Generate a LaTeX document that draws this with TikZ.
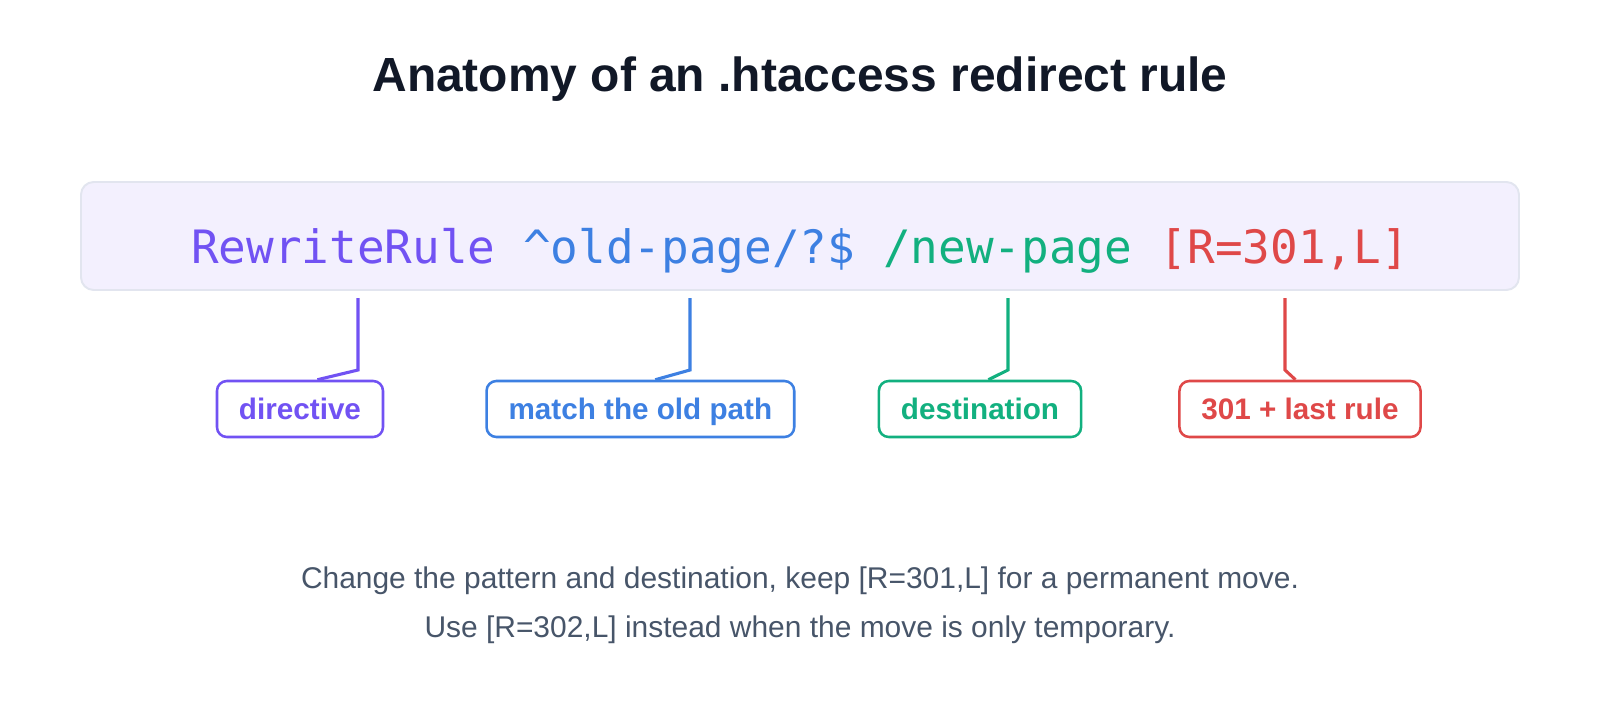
\documentclass[tikz,border=0pt]{standalone}
\usepackage{fontspec}
\setmainfont{Liberation Sans}
\setmonofont{DejaVu Sans Mono}
\usetikzlibrary{positioning, calc}
\definecolor{cink}{HTML}{111827}
\definecolor{cpurple}{HTML}{7152F3}
\definecolor{cblue}{HTML}{3D80E2}
\definecolor{cgreen}{HTML}{12B07F}
\definecolor{cred}{HTML}{DF4848}
\definecolor{cslate}{HTML}{475569}
\definecolor{cpanel}{HTML}{F3F0FE}
\definecolor{cedge}{HTML}{E2E5EF}
\tikzset{
  tag/.style={draw=#1, text=#1, fill=white, line width=1.8pt, rounded corners=7pt, inner xsep=0.55cm, inner ysep=0pt, text height=0.6cm, text depth=0.1cm, minimum height=1.4cm, font=\fontsize{21.1}{25}\selectfont\bfseries},
  lead/.style={draw=#1, line width=2.2pt},
  caption/.style={font=\fontsize{21.3}{26}\selectfont, text=cslate, anchor=base},
}

\begin{document}
\begin{tikzpicture}
  \useasboundingbox (-20,-9) rectangle (20,9);
  \node[font=\fontsize{34.1}{40}\selectfont\bfseries, text=cink, anchor=base] (title) at (0,6.725) {Anatomy of an .htaccess redirect rule};
  % the rule itself
  \node[draw=cedge, fill=cpanel, line width=1.4pt, rounded corners=9pt, minimum width=35.95cm, minimum height=2.7cm] (panel) at (0,3.1) {};
  \node[font=\fontsize{32.7}{38}\ttfamily, anchor=base] (rule) at (0,2.425)
    {\textcolor{cpurple}{RewriteRule} \textcolor{cblue}{\textasciicircum old-page/?\$} \textcolor{cgreen}{/new-page} \textcolor{cred}{[R=301,L]}};
  % what each part does
  \node[tag=cpurple] (directive) at (-12.5,-1.225) {directive};
  \node[tag=cblue] (pattern) at (-3.99,-1.225) {match the old path};
  \node[tag=cgreen] (target) at (4.5,-1.225) {destination};
  \node[tag=cred] (flags) at (12.5,-1.225) {301 + last rule};
  \coordinate (p1) at (-11.05,1.55);
  \coordinate (p2) at (-2.75,1.55);
  \coordinate (p3) at (5.2,1.55);
  \coordinate (p4) at (12.125,1.55);
  \draw[lead=cpurple] (p1) -- ++(0,-1.8) -- ($(directive.north)!0.3!(directive.north -| p1)$);
  \draw[lead=cblue] (p2) -- ++(0,-1.8) -- ($(pattern.north)!0.3!(pattern.north -| p2)$);
  \draw[lead=cgreen] (p3) -- ++(0,-1.8) -- ($(target.north)!0.3!(target.north -| p3)$);
  \draw[lead=cred] (p4) -- ++(0,-1.8) -- ($(flags.north)!0.3!(flags.north -| p4)$);
  % usage note
  \node[caption] (note1) at (0,-5.7) {Change the pattern and destination, keep [R=301,L] for a permanent move.};
  \node[caption] (note2) at (0,-6.925) {Use [R=302,L] instead when the move is only temporary.};
\end{tikzpicture}
\end{document}
